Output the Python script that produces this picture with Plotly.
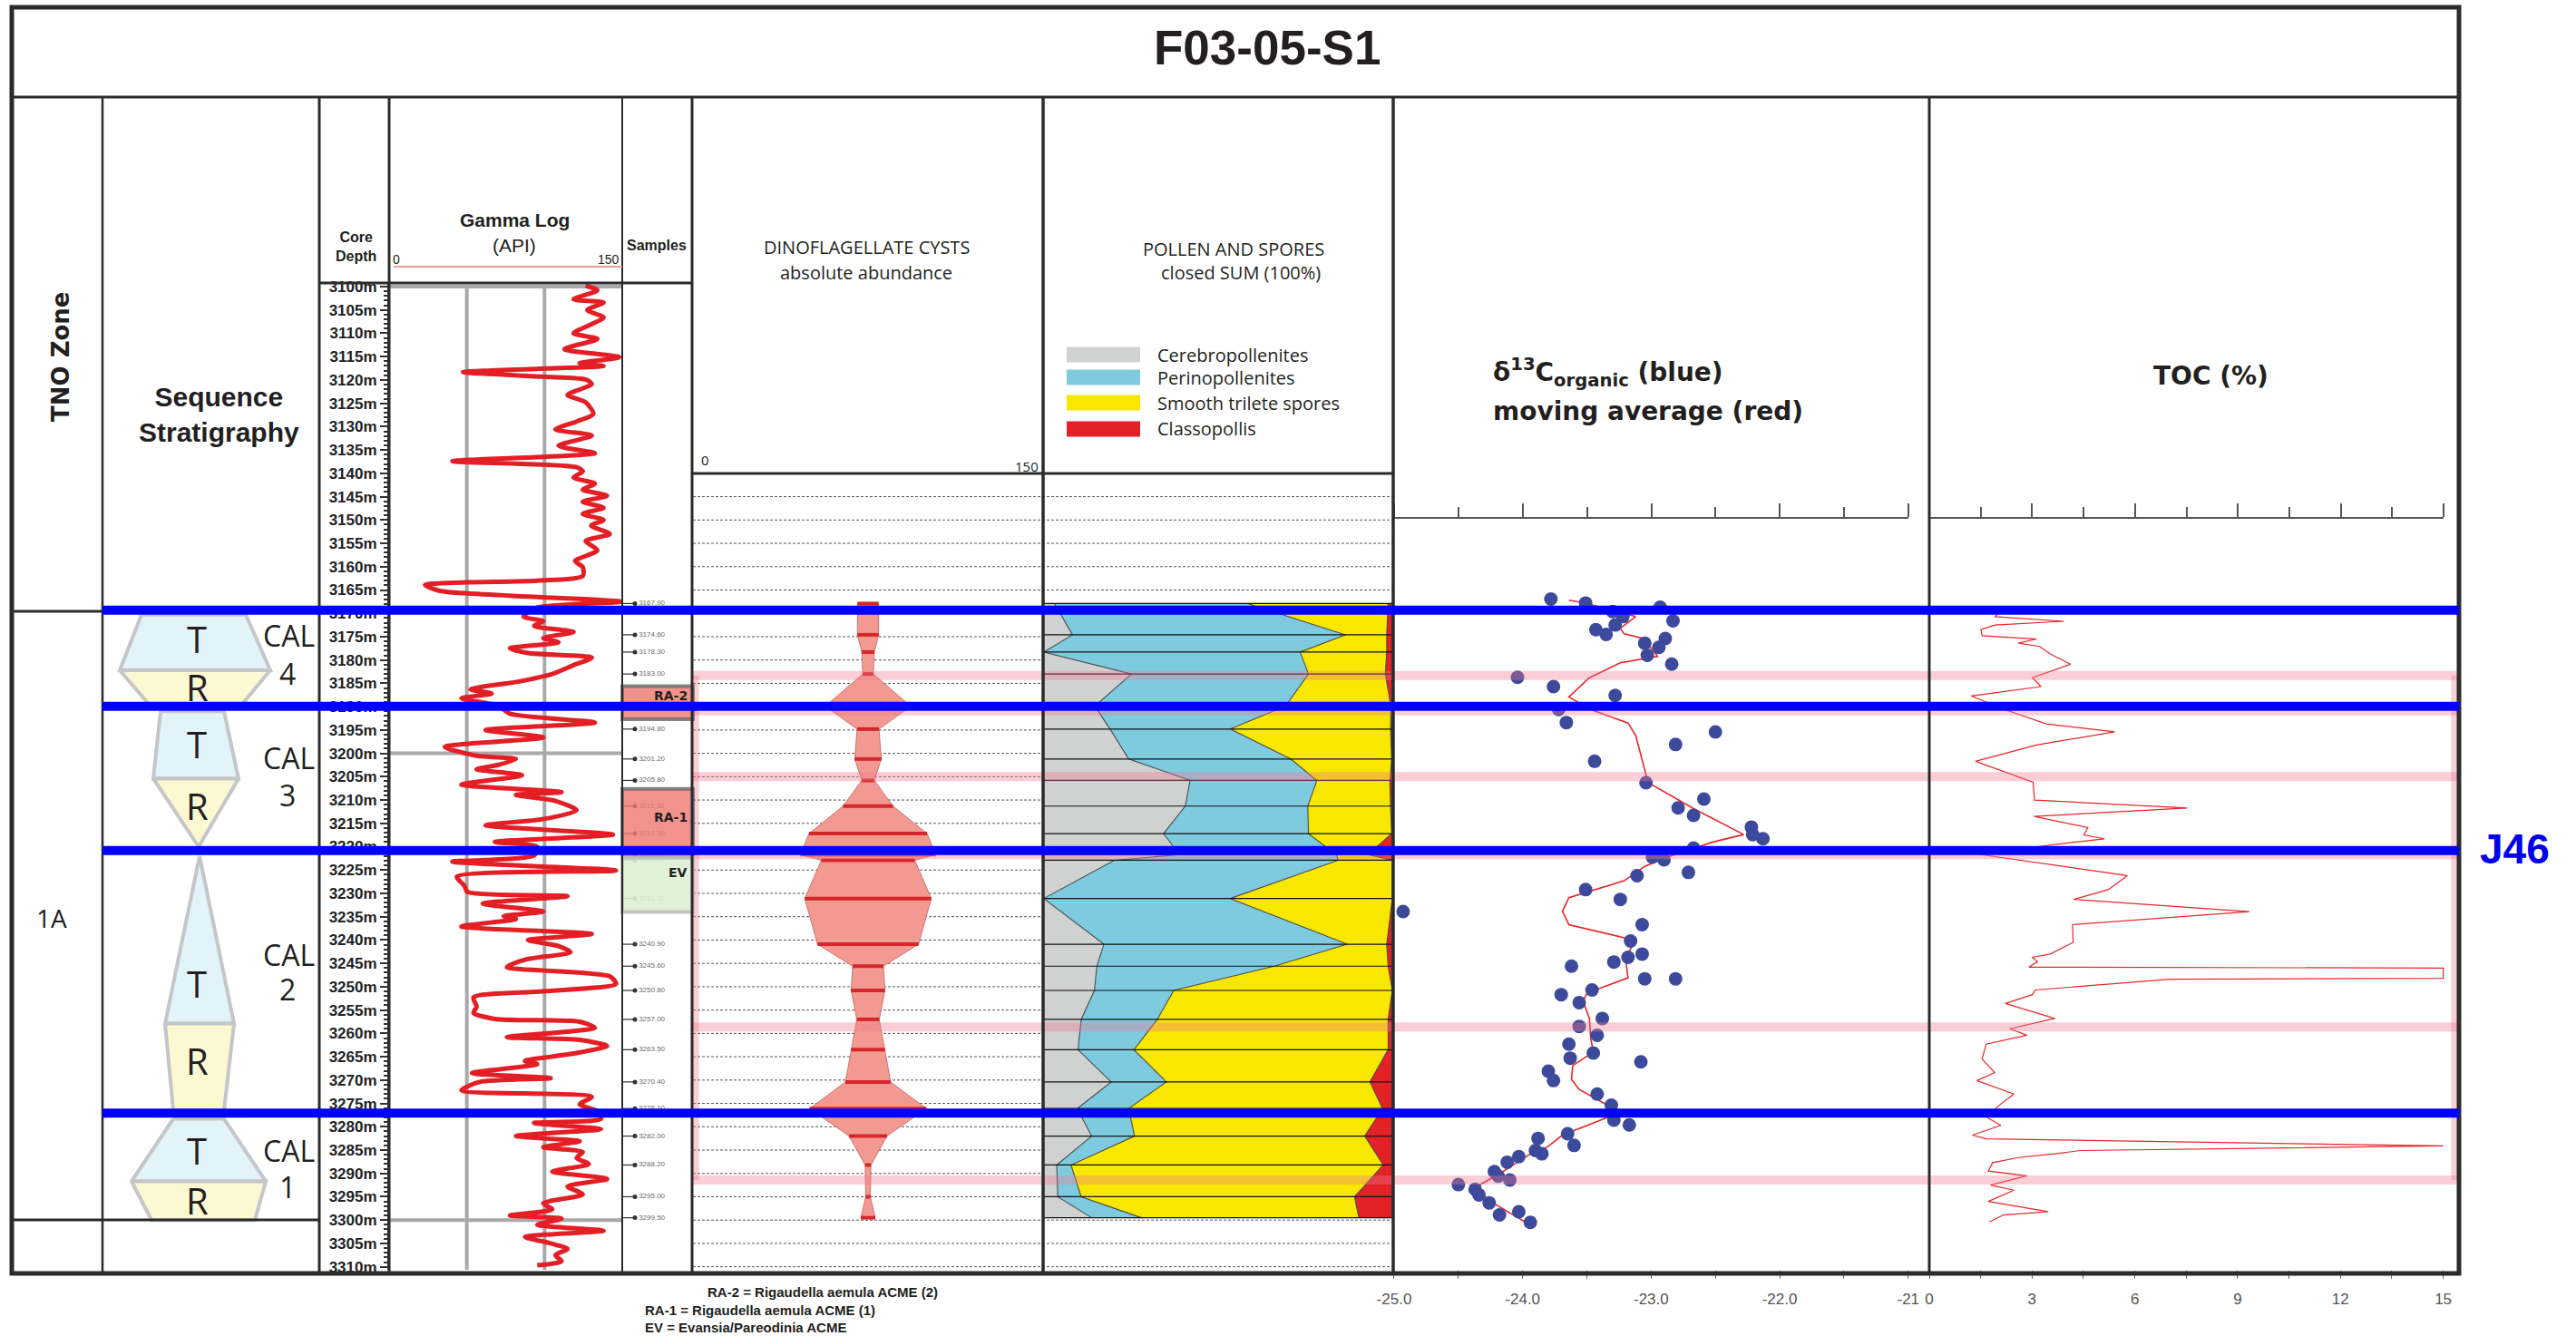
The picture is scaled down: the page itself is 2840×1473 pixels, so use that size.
import plotly.graph_objects as go

W, H = 2840, 1473
def px(x): return x / W
def py(y): return 1 - y / H

# ------------------------------------------------------------------ data
DEPTH_TICKS = list(range(3100, 3311, 5))

GAMMA_DEPTH = [3099.8, 3100.8, 3102.7, 3103.4, 3105.0, 3106.6, 3108.3, 3110.0, 3111.2, 3113.4,
               3115.1, 3116.4, 3117.0, 3118.3, 3119.3, 3119.9, 3120.9, 3123.2, 3124.8, 3127.3,
               3128.9, 3130.6, 3131.9, 3134.1, 3135.7, 3137.4, 3138.7, 3139.6, 3140.9, 3142.2,
               3143.5, 3144.8, 3146.1, 3147.4, 3148.7, 3150.0, 3151.2, 3153.0, 3154.5, 3156.5,
               3158.8, 3160.1, 3162.0, 3163.0, 3163.9, 3165.2, 3166.5, 3167.5, 3168.8, 3170.7,
               3171.7, 3172.7, 3174.0, 3175.3, 3176.2, 3177.5, 3178.5, 3179.5, 3181.1, 3183.0,
               3184.6, 3186.3, 3187.2, 3188.2, 3189.8, 3191.5, 3193.4, 3195.0, 3196.6, 3198.6,
               3200.5, 3201.2, 3202.5, 3203.4, 3204.7, 3206.7, 3208.3, 3208.9, 3210.2, 3212.2,
               3214.1, 3215.4, 3217.4, 3219.0, 3220.0, 3221.9, 3223.2, 3225.1, 3226.4, 3228.4,
               3229.7, 3230.6, 3232.2, 3233.9, 3234.9, 3235.5, 3237.1, 3238.7, 3240.0, 3241.3,
               3242.6, 3244.2, 3245.8, 3247.8, 3249.4, 3251.0, 3252.3, 3254.3, 3255.6, 3256.9,
               3257.5, 3258.8, 3260.8, 3261.4, 3262.7, 3264.3, 3265.9, 3266.6, 3268.5, 3269.6,
               3270.4, 3272.2, 3273.6, 3275.2, 3276.8, 3278.3, 3279.2, 3280.5, 3282.0, 3283.1,
               3284.4, 3285.4, 3286.7, 3288.0, 3289.6, 3291.2, 3292.8, 3294.5, 3296.4, 3297.7,
               3299.0, 3299.7, 3301.0, 3302.3, 3303.6, 3304.9, 3306.2, 3307.5, 3308.8, 3309.7]
GAMMA_API = [126.5, 134, 118.7, 138, 127.5, 138, 128.5, 118.7, 134, 112.8,
             148, 122.6, 138, 47.5, 99.2, 126.5, 130.4, 114.8, 126.5, 131.4,
             120.7, 107, 130.4, 109, 132.4, 40.7, 120.7, 124.6, 118.7, 132.4,
             124.6, 140.2, 124.6, 138, 124.6, 138, 130, 142, 126.5, 134,
             119.7, 124.6, 124.6, 95.3, 23.1, 32.8, 95.3, 149, 95, 86.5,
             99.2, 93.3, 118.7, 99.2, 109, 77.7, 89.4, 130.4, 118.7, 105,
             83.6, 52.4, 66, 46.5, 70, 77.7, 132.4, 62.1, 99.2, 35.8,
             56.3, 81.6, 69.9, 56.3, 85.5, 46.5, 111, 81.6, 107, 120.7,
             99.2, 62.1, 144, 68, 95.3, 93.3, 40.7, 146, 43.6, 48.5,
             50.4, 114.8, 60.2, 99.2, 73.8, 81.6, 46.5, 130.4, 89.4, 109,
             116.7, 87.4, 75.8, 142.1, 146, 99.2, 54.3, 56.3, 54.3, 68,
             122.6, 132.4, 75.8, 122.6, 140.2, 118.7, 87.4, 95.3, 53.3, 104,
             58.2, 46.5, 130.4, 122.6, 135, 136.3, 93.3, 136.3, 81.6, 122.6,
             99.2, 124.6, 120.7, 128.5, 105, 140.2, 114.8, 124.6, 99.2, 105,
             77.7, 111, 95.3, 138, 87.4, 103, 114.8, 107, 111, 95.3]
GAMMA_GRID_API = [50, 100]
GAMMA_GRID_DEPTH = [3100, 3200, 3300]

SAMPLE_DEPTH = [3167.9, 3174.6, 3178.3, 3183.0, 3189.9, 3194.8, 3201.2, 3205.8, 3211.3, 3217.2,
                3221.7, 3222.9, 3231.1, 3240.9, 3245.6, 3250.8, 3257.0, 3263.5, 3270.4, 3276.1,
                3282.0, 3288.2, 3295.0, 3299.5]
DINO_ABUND = [9, 9.1, 5.4, 4.5, 36.6, 9.4, 11.4, 5.4, 21.4, 50.6,
              58, 40, 54.2, 43.3, 13.2, 14.5, 9.6, 14.5, 19.4, 50,
              16.3, 2.5, 2, 6.2]
CEREBRO = [3.3, 8.4, 0.2, 25.3, 14.8, 19.2, 24.5, 42.1, 40.7, 34.5, 39.0, 20.4,
           0.2, 17.4, 15.4, 14.7, 10.9, 10.0, 19.5, 9.8, 13.9, 3.9, 4.2, 13.9]
PERINO = [55.3, 78.2, 73.4, 50.7, 54.6, 34.4, 46.4, 36.3, 35.1, 41.5, 45.0, 64.1,
          53.4, 69.7, 50.8, 22.7, 21.8, 16.0, 15.8, 14.7, 12.3, 4.1, 6.7, 14.3]
SMOOTH = [40.2, 11.8, 24.8, 22.0, 30.2, 45.9, 28.9, 20.9, 23.7, 23.8, 9.0, 15.5,
          46.4, 11.3, 32.6, 62.6, 66.1, 72.8, 58.3, 72.7, 65.9, 89.4, 78.3, 62.2]
CLASSO = [1.2, 1.6, 1.6, 2.0, 0.4, 0.5, 0.2, 0.7, 0.5, 0.2, 7.0, 0.0,
          0.0, 1.6, 1.2, 0.0, 1.2, 1.2, 6.4, 2.8, 7.9, 2.6, 10.8, 9.6]
POLLEN_NAMES = ["Cerebropollenites", "Perinopollenites", "Smooth trilete spores", "Classopollis"]

D13C_DEPTH = [3166.95, 3167.8, 3169.6, 3170.7, 3168.7, 3171.6, 3173.5, 3174.5, 3172.5, 3176.4,
              3175.4, 3177.3, 3179.0, 3180.9, 3183.7, 3185.7, 3187.6, 3190.6, 3193.4, 3195.4,
              3198.1, 3201.7, 3206.3, 3209.8, 3211.7, 3213.3, 3215.8, 3217.4, 3218.3, 3220.3,
              3222.2, 3222.8, 3225.5, 3226.2, 3229.2, 3231.3, 3233.9, 3236.7, 3240.2, 3243.0,
              3243.7, 3244.7, 3245.6, 3248.3, 3248.3, 3250.7, 3251.7, 3253.4, 3256.8, 3258.5,
              3260.4, 3262.3, 3264.2, 3265.3, 3266.1, 3268.1, 3270.1, 3273.0, 3275.4, 3278.6,
              3279.6, 3281.5, 3282.5, 3284.0, 3285.1, 3285.8, 3286.4, 3287.6, 3289.6, 3291.4,
              3290.6, 3292.4, 3293.4, 3294.6, 3296.3, 3298.2, 3298.9, 3300.5]
D13C_VAL = [-23.78, -23.51, -23.30, -23.22, -22.93, -22.83, -23.43, -23.35, -23.28, -23.05,
            -22.89, -22.94, -23.03, -22.84, -24.04, -23.76, -23.28, -23.72, -23.66, -22.50,
            -22.81, -23.44, -23.04, -22.59, -22.79, -22.67, -22.22, -22.21, -22.13, -22.67,
            -22.99, -22.90, -22.71, -23.11, -23.51, -23.24, -24.93, -23.07, -23.16, -23.07,
            -23.18, -23.29, -23.62, -23.05, -22.81, -23.46, -23.70, -23.56, -23.38, -23.56,
            -23.42, -23.64, -23.45, -23.63, -23.08, -23.80, -23.76, -23.42, -23.31, -23.29,
            -23.17, -23.65, -23.88, -23.60, -23.90, -23.85, -24.03, -24.12, -24.22, -24.10,
            -24.19, -24.50, -24.37, -24.34, -24.26, -24.03, -24.18, -23.94]
MA_DEPTH = [3167.2, 3167.8, 3170.7, 3173.2, 3174.4, 3175.4, 3179.2, 3180.6, 3183.8, 3187.9,
            3190.5, 3193.5, 3196.2, 3201.3, 3205.6, 3206.6, 3211.7, 3217.4, 3219.0, 3222.2,
            3224.2, 3227.3, 3230.9, 3233.8, 3236.7, 3240.1, 3243.7, 3248.1, 3251.4, 3253.1,
            3256.8, 3261.1, 3264.0, 3266.9, 3269.9, 3272.0, 3275.4, 3277.9, 3281.8, 3284.4,
            3285.8, 3289.9, 3292.4, 3294.3, 3296.5, 3300.4]
MA_VAL = [-23.64, -23.51, -23.12, -23.24, -23.21, -23.06, -22.95, -23.24, -23.48, -23.64,
          -23.48, -23.18, -23.12, -23.07, -23.03, -23.00, -22.68, -22.28, -22.52, -22.87,
          -23.05, -23.21, -23.64, -23.69, -23.64, -23.12, -23.20, -23.18, -23.50, -23.53,
          -23.48, -23.47, -23.45, -23.61, -23.62, -23.56, -23.34, -23.33, -23.69, -23.81,
          -23.94, -24.17, -24.33, -24.33, -24.22, -23.98]
D13C_TICKS = [-25, -24, -23, -22, -21]
D13C_TICKTEXT = ["-25.0", "-24.0", "-23.0", "-22.0", "-21"]

TOC_DEPTH = [3169.9, 3170.7, 3171.7, 3172.5, 3173.5, 3174.8, 3175.5, 3176.4, 3177.1, 3178.7,
             3180.9, 3183.8, 3185.7, 3187.7, 3190.5, 3193.7, 3195.4, 3198.2, 3201.7, 3206.2,
             3210.0, 3211.7, 3213.5, 3215.9, 3217.5, 3218.3, 3219.0, 3221.6, 3226.2, 3229.2,
             3231.3, 3233.9, 3236.7, 3240.5, 3243.0, 3243.7, 3244.6, 3245.8, 3246.0, 3248.2,
             3248.4, 3250.7, 3251.7, 3253.6, 3256.8, 3259.0, 3260.4, 3262.3, 3265.5, 3268.4,
             3270.1, 3273.0, 3275.4, 3277.9, 3279.7, 3281.8, 3282.6, 3284.1, 3285.1, 3285.8,
             3286.6, 3287.7, 3289.5, 3290.5, 3292.5, 3293.6, 3296.0, 3298.2, 3298.9, 3300.4]
TOC_VAL = [2.06, 1.91, 3.93, 1.91, 1.51, 1.54, 3.13, 2.60, 3.22, 3.53,
           4.12, 3.01, 3.26, 1.22, 2.16, 3.41, 5.41, 3.13, 1.35, 3.03,
           3.07, 7.53, 3.06, 4.63, 4.51, 5.11, 4.28, 1.41, 5.78, 5.22,
           4.22, 9.34, 4.18, 4.20, 3.53, 3.00, 3.16, 2.91, 15.0, 15.0,
           7.03, 3.10, 3.01, 2.22, 3.66, 2.35, 2.85, 1.66, 1.54, 1.91,
           1.39, 2.47, 2.04, 1.66, 2.09, 1.26, 1.66, 15.0, 4.41, 3.66,
           2.60, 1.85, 1.72, 2.85, 1.79, 2.47, 1.72, 3.47, 2.16, 1.76]
TOC_TICKS = [0, 3, 6, 9, 12, 15]

# sequence stratigraphy units (T = transgressive, R = regressive)
SEQ_NAME = ["CAL 4", "CAL 4", "CAL 3", "CAL 3", "CAL 2", "CAL 2", "CAL 1", "CAL 1"]
SEQ_KIND = ["T", "R", "T", "R", "T", "R", "T", "R"]
SEQ_TOP = [3170.3, 3182.2, 3191.0, 3205.4, 3222.0, 3257.9, 3278.3, 3291.7]
SEQ_BASE = [3182.2, 3189.9, 3205.4, 3220.0, 3257.9, 3276.5, 3291.7, 3300.0]
SEQ_TOP_L = [43, 19, 64, 56, 107, 69, 78, 32]
SEQ_TOP_R = [158, 185, 134, 150, 107, 145, 134, 180]
SEQ_BASE_L = [19, 53, 56, 106, 69, 78, 32, 54]
SEQ_BASE_R = [185, 152, 150, 106, 145, 134, 180, 168]
SEQ_LABEL_DEPTH = [3175.4, 3185.8, 3198.0, 3211.3, 3249.4, 3265.9, 3285.1, 3295.8]
CAL_NAME = ["4", "3", "2", "1"]
CAL_DEPTH = [3174.8, 3201.0, 3243.1, 3285.1]
CAL_NUM_DEPTH = [3182.8, 3209.0, 3250.6, 3292.9]

SEQ_BOUNDARY = [3169.3, 3189.9, 3220.8, 3277.1]
PINK_DEPTH = [3183.3, 3190.9, 3205.0, 3221.7, 3258.6, 3291.4]
ACME_NAME = ["RA-2", "RA-1", "EV"]
ACME_TOP = [3185.6, 3207.6, 3222.4]
ACME_BASE = [3192.7, 3222.4, 3234.0]
ACME_LABEL_DEPTH = [3187.6, 3213.6, 3225.6]

# ------------------------------------------------------------------ figure
fig = go.Figure()
sk = dict(hoverinfo="skip", showlegend=False)

# gamma grid + curve
gx, gy = [], []
for v in GAMMA_GRID_API:
    gx += [v, v, None]; gy += [3100, 3312, None]
for d in GAMMA_GRID_DEPTH:
    gx += [0, 150, None]; gy += [d, d, None]
fig.add_trace(go.Scatter(x=gx, y=gy, mode="lines", line=dict(color="#a9a9a9", width=4),
                         xaxis="x", yaxis="y", **sk))
fig.add_trace(go.Scatter(x=GAMMA_API, y=GAMMA_DEPTH, mode="lines",
                         line=dict(color="#e31e25", width=5, shape="spline", smoothing=0.7),
                         xaxis="x", yaxis="y", **sk))

# sequence stratigraphy
for i in range(len(SEQ_KIND)):
    fill = "#e2f3f9" if SEQ_KIND[i] == "T" else "#fcf8d2"
    xs = [SEQ_TOP_L[i], SEQ_TOP_R[i], SEQ_BASE_R[i], SEQ_BASE_L[i], SEQ_TOP_L[i]]
    ys = [SEQ_TOP[i], SEQ_TOP[i], SEQ_BASE[i], SEQ_BASE[i], SEQ_TOP[i]]
    fig.add_trace(go.Scatter(x=xs, y=ys, mode="lines", fill="toself", fillcolor=fill,
                             line=dict(color="#c4c6c8", width=4), xaxis="x2", yaxis="y", **sk))

# samples column
tx, ty = [], []
for d in SAMPLE_DEPTH:
    tx += [1, 14, None]; ty += [d, d, None]
fig.add_trace(go.Scatter(x=tx, y=ty, mode="lines", line=dict(color="#333", width=1.2),
                         xaxis="x3", yaxis="y", **sk))
fig.add_trace(go.Scatter(x=[14] * len(SAMPLE_DEPTH), y=SAMPLE_DEPTH, mode="markers+text",
                         marker=dict(size=5, color="#333"),
                         text=["%.2f" % d for d in SAMPLE_DEPTH], textposition="middle right",
                         textfont=dict(family="Liberation Sans", size=8, color="#6a6a6a"),
                         xaxis="x3", yaxis="y", **sk))

# dinoflagellate kite
kx = [v / 2 for v in DINO_ABUND] + [-v / 2 for v in DINO_ABUND[::-1]]
ky = SAMPLE_DEPTH + SAMPLE_DEPTH[::-1]
fig.add_trace(go.Scatter(x=kx + [kx[0]], y=ky + [ky[0]], mode="lines", fill="toself",
                         fillcolor="#f29a92", line=dict(color="rgba(190,80,70,0.7)", width=1),
                         xaxis="x4", yaxis="y", **sk))
bx, by = [], []
for d, v in zip(SAMPLE_DEPTH, DINO_ABUND):
    bx += [-v / 2, v / 2, None]; by += [d, d, None]
fig.add_trace(go.Scatter(x=bx, y=by, mode="lines", line=dict(color="#d5262b", width=4),
                         xaxis="x4", yaxis="y", **sk))

# pollen & spores stacked
cum, run = [], [0.0] * len(SAMPLE_DEPTH)
for arr in (CEREBRO, PERINO, SMOOTH, CLASSO):
    run = [a + b for a, b in zip(run, arr)]
    cum.append(run)
POLLEN_COLORS = ["#d0d1d1", "#7ecbe0", "#f8e800", "#e32228"]
for i, c in enumerate(cum):
    fig.add_trace(go.Scatter(x=c, y=SAMPLE_DEPTH, mode="lines",
                             fill="tozerox" if i == 0 else "tonextx",
                             fillcolor=POLLEN_COLORS[i],
                             line=dict(color="#4a4a4a", width=1.1),
                             xaxis="x5", yaxis="y", **sk))
lx, ly = [], []
for d in SAMPLE_DEPTH:
    lx += [0, 100, None]; ly += [d, d, None]
fig.add_trace(go.Scatter(x=lx, y=ly, mode="lines", line=dict(color="#111", width=1.2),
                         xaxis="x5", yaxis="y", **sk))

# d13C
fig.add_trace(go.Scatter(x=MA_VAL, y=MA_DEPTH, mode="lines", line=dict(color="#e8262a", width=1.6),
                         xaxis="x6", yaxis="y", **sk))
fig.add_trace(go.Scatter(x=D13C_VAL, y=D13C_DEPTH, mode="markers",
                         marker=dict(size=15, color="#3d4a9c"), xaxis="x6", yaxis="y", **sk))
# TOC
fig.add_trace(go.Scatter(x=TOC_VAL, y=TOC_DEPTH, mode="lines", line=dict(color="#e8262a", width=1.2),
                         xaxis="x7", yaxis="y", **sk))
# invisible anchors for the top scales
fig.add_trace(go.Scatter(x=[-23], y=[3200], mode="markers", marker=dict(opacity=0),
                         xaxis="x8", yaxis="y", **sk))
fig.add_trace(go.Scatter(x=[7], y=[3200], mode="markers", marker=dict(opacity=0),
                         xaxis="x9", yaxis="y", **sk))

# ------------------------------------------------------------------ shapes
shapes = []
DARK = "#2b2b2b"
def pline(x0, y0, x1, y1, color=DARK, width=3, layer="above", dash=None):
    shapes.append(dict(type="line", xref="paper", yref="paper", x0=px(x0), y0=py(y0),
                       x1=px(x1), y1=py(y1), layer=layer,
                       line=dict(color=color, width=width, dash=dash)))
def dline(x0, x1, d, color, width, layer="above", dash=None):
    shapes.append(dict(type="line", xref="paper", yref="y", x0=px(x0), x1=px(x1), y0=d, y1=d,
                       layer=layer, line=dict(color=color, width=width, dash=dash)))

# dashed 5 m grid in dino + pollen columns
for d in range(3145, 3311, 5):
    dline(764, 1535, d, "#555", 1, layer="below", dash="3px,2px")

# pink intervals
PINK = "rgba(240,120,140,0.36)"
for d in PINK_DEPTH:
    dline(762, 2711, d, PINK, 10)
for xx in (766, 2707):
    shapes.append(dict(type="line", xref="paper", yref="y", x0=px(xx), x1=px(xx),
                       y0=PINK_DEPTH[0], y1=PINK_DEPTH[-1], layer="above",
                       line=dict(color=PINK, width=9)))

# acme boxes in samples column
ACME_FILL = ["rgba(238,122,116,0.82)", "rgba(238,122,116,0.82)", "rgba(222,240,212,0.9)"]
ACME_LINE = ["rgba(105,105,105,0.8)", "rgba(105,105,105,0.8)", "rgba(190,190,190,0.9)"]
for i in range(3):
    shapes.append(dict(type="rect", xref="paper", yref="y", x0=px(686), x1=px(764),
                       y0=ACME_TOP[i], y1=ACME_BASE[i], fillcolor=ACME_FILL[i],
                       line=dict(color=ACME_LINE[i], width=4), layer="above"))

# frame & column lines
shapes.append(dict(type="rect", xref="paper", yref="paper", x0=px(13), x1=px(2711),
                   y0=py(1404), y1=py(8), line=dict(color=DARK, width=5), layer="above"))
pline(13, 107, 2711, 107, width=3)
for xx, w in ((113, 2.5), (352, 3), (429, 3), (686, 2), (763, 3), (1150, 3.5), (1536, 3.5), (2127, 3)):
    pline(xx, 107, xx, 1404, width=w)
pline(352, 312, 763, 312, width=3)
pline(763, 522, 1536, 522, width=3)
pline(13, 674, 113, 674, width=3)
pline(13, 1345, 352, 1345, width=3)
pline(434, 294, 686, 294, color="#f29a9a", width=2)

# pollen legend swatches
for i, yy in enumerate((391, 416, 444, 473)):
    shapes.append(dict(type="rect", xref="paper", yref="paper", x0=px(1176), x1=px(1257),
                       y0=py(yy + 8.5), y1=py(yy - 8.5), fillcolor=POLLEN_COLORS[i],
                       line=dict(width=0), layer="above"))

# sequence boundaries (blue)
for d in SEQ_BOUNDARY:
    dline(113, 2711, d, "#0000ff", 10)

# ------------------------------------------------------------------ annotations
ann = []
def text(x, y, s, size, family="Open Sans", color="#231f20", xanchor="center",
         yref="paper", angle=0):
    ann.append(dict(x=px(x), y=(py(y) if yref == "paper" else y), xref="paper", yref=yref,
                    text=s, showarrow=False, textangle=angle, xanchor=xanchor, yanchor="middle",
                    font=dict(family=family, size=size, color=color)))

text(1397, 52, "<b>F03-05-S1</b>", 53, family="Liberation Sans")
text(67, 393, "<b>TNO Zone</b>", 26, family="DejaVu Sans", angle=-90)
text(241, 457, "<b>Sequence<br>Stratigraphy</b>", 30, family="Liberation Sans")
text(392, 272, "<b>Core<br>Depth</b>", 16, family="Liberation Sans")
text(567, 242, "<b>Gamma Log</b>", 21, family="Liberation Sans")
text(567, 270, "(API)", 21, family="Liberation Sans")
text(431, 286, "0", 14, family="Liberation Sans", xanchor="left")
text(685, 286, "150", 14, family="Liberation Sans", xanchor="right")
text(724, 271, "<b>Samples</b>", 16, family="Liberation Sans")
text(955, 273, "DINOFLAGELLATE CYSTS", 20)
text(955, 300, "absolute abundance", 20)
text(771, 507, "0", 15, xanchor="left")
text(1147, 514, "150", 15, xanchor="right")
text(1360, 274, "POLLEN AND SPORES", 20)
text(1368, 301, "closed SUM (100%)", 20)
for i, yy in enumerate((391, 416, 444, 473)):
    text(1274, yy, POLLEN_NAMES[i], 20, xanchor="left")
text(1644, 410, "<b>δ<sup>13</sup>C<sub>organic</sub> (blue)</b>", 28, family="DejaVu Sans", xanchor="left")
text(1644, 453, "<b>moving average (red)</b>", 28, family="DejaVu Sans", xanchor="left")
text(2437, 414, "<b>TOC (%)</b>", 28, family="DejaVu Sans")
text(2772, 936, "<b>J46</b>", 46, family="Liberation Sans", color="#0000ee")
text(57, 1012, "1A", 28)
for i in range(len(SEQ_KIND)):
    text(217, SEQ_LABEL_DEPTH[i], SEQ_KIND[i], 40, yref="y")
for i in range(4):
    text(318, CAL_DEPTH[i], "CAL", 32, yref="y")
    text(317, CAL_NUM_DEPTH[i], CAL_NAME[i], 32, yref="y")
for i in range(3):
    text(760, ACME_LABEL_DEPTH[i], "<b>%s</b>" % ACME_NAME[i], 14, family="DejaVu Sans",
         xanchor="right", yref="y")
text(778, 1424, "<b>RA-2 = Rigaudella aemula ACME (2)</b>", 15, family="Liberation Sans", xanchor="left")
text(709, 1444, "<b>RA-1 = Rigaudella aemula ACME (1)</b>", 15, family="Liberation Sans", xanchor="left")
text(709, 1463, "<b>EV = Evansia/Pareodinia ACME</b>", 15, family="Liberation Sans", xanchor="left")

# ------------------------------------------------------------------ axes
def xa(x0, x1, rng, **kw):
    d = dict(domain=[px(x0), px(x1)], range=rng, anchor="y", showgrid=False, zeroline=False,
             visible=False, fixedrange=True, automargin=False)
    d.update(kw)
    return d

tickfont = dict(family="Liberation Sans", size=17, color="#555")
layout = dict(
    template="none",
    width=W, height=H, margin=dict(l=0, r=0, t=0, b=0, pad=0, autoexpand=False), autosize=False,
    paper_bgcolor="white", plot_bgcolor="rgba(0,0,0,0)", showlegend=False,
    shapes=shapes, annotations=ann,
    yaxis=dict(domain=[py(1400), py(312)], range=[3310.65, 3099.22], anchor="x", side="left",
               automargin=False,
               showgrid=False, zeroline=False, showline=True, linecolor="#333", linewidth=2,
               ticks="outside", ticklen=8, tickwidth=2, tickcolor="#333",
               tickmode="array", tickvals=DEPTH_TICKS,
               ticktext=["<b>%dm</b>" % d for d in DEPTH_TICKS],
               tickfont=dict(family="Liberation Sans", size=17, color="#222"),
               minor=dict(tickmode="linear", tick0=3100, dtick=1, ticklen=4, ticks="outside",
                          tickcolor="#333", tickwidth=1.5),
               fixedrange=True),
    xaxis=xa(429, 686, [0, 150]),
    xaxis2=xa(113, 352, [0, 239]),
    xaxis3=xa(686, 763, [0, 77]),
    xaxis4=xa(764, 1150, [-75, 75]),
    xaxis5=xa(1150, 1535, [0, 100]),
    xaxis6=xa(1536, 2127, [-25.007, -20.836], visible=True, side="bottom", showline=False,
              ticks="outside", ticklen=9, tickwidth=1.2, tickcolor="#666",
              tickmode="array", tickvals=D13C_TICKS, ticktext=D13C_TICKTEXT, tickfont=tickfont,
              ticklabelstandoff=8,
              minor=dict(tickmode="linear", tick0=-25, dtick=0.5, ticklen=9, ticks="outside",
                         tickcolor="#666")),
    xaxis7=xa(2127, 2711, [0, 15.46], visible=True, side="bottom", showline=False,
              ticks="outside", ticklen=9, tickwidth=1.2, tickcolor="#666",
              tickmode="array", tickvals=TOC_TICKS, ticktext=[str(t) for t in TOC_TICKS],
              tickfont=tickfont, ticklabelstandoff=8,
              minor=dict(tickmode="linear", tick0=0, dtick=1.5, ticklen=9, ticks="outside",
                         tickcolor="#666")),
    xaxis8=xa(1537, 2104, [-25, -21], visible=True, anchor="free", position=py(571), side="top",
              showline=True, linecolor="#555", linewidth=1.5, ticks="outside", ticklen=15,
              tickcolor="#555", tickwidth=1.5, tickmode="linear", tick0=-25, dtick=1,
              showticklabels=False,
              minor=dict(tickmode="linear", tick0=-25, dtick=0.5, ticklen=11, ticks="outside",
                         tickcolor="#555", tickwidth=1.5)),
    xaxis9=xa(2127, 2694, [0, 15], visible=True, anchor="free", position=py(571), side="top",
              showline=True, linecolor="#555", linewidth=1.5, ticks="outside", ticklen=15,
              tickcolor="#555", tickwidth=1.5, tickmode="linear", tick0=0, dtick=3,
              showticklabels=False,
              minor=dict(tickmode="linear", tick0=0, dtick=1.5, ticklen=11, ticks="outside",
                         tickcolor="#555", tickwidth=1.5)),
)
fig.update_layout(**layout)
fig.write_html("out.html",
               post_script="document.body.style.margin='0';document.body.style.padding='0';"
                           "document.documentElement.style.overflow='hidden';")
